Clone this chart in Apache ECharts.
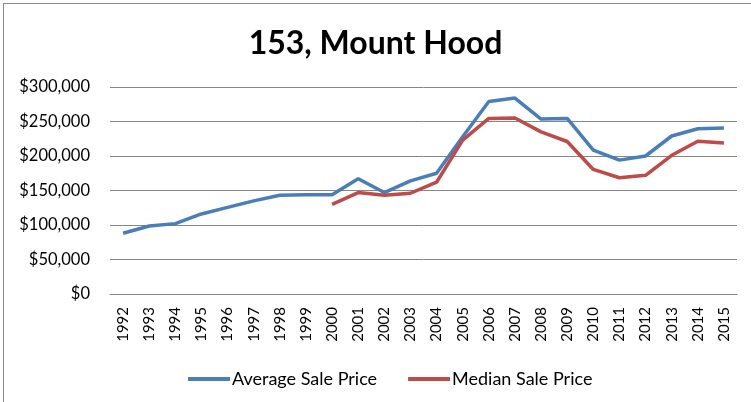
<!DOCTYPE html>
<html>
<head>
<meta charset="utf-8">
<script src="https://cdn.jsdelivr.net/npm/echarts@6/dist/echarts.min.js"></script>
<style>
  html, body { margin: 0; padding: 0; background: #fff; }
  #frame { position: absolute; left: 3px; top: 3px; width: 800px; height: 450px; border: 1px solid #8c8c8c; }
  #chart { position: absolute; left: 0; top: 0; width: 751px; height: 402px; }
</style>
</head>
<body>
<div id="frame"></div>
<div id="chart"></div>
<script>
const years = ['1992', '1993', '1994', '1995', '1996', '1997', '1998', '1999', '2000', '2001', '2002', '2003',
  '2004', '2005', '2006', '2007', '2008', '2009', '2010', '2011', '2012', '2013', '2014', '2015'];

const averagePrice = [88000, 98500, 102000, 116000, 125500, 135000, 143000, 144000, 144000, 167000, 147000, 164000,
  175000, 228000, 279000, 284000, 253500, 254500, 208500, 194000, 200000, 229000, 239500, 240500];

const medianPrice = [null, null, null, null, null, null, null, null, 130000, 147000, 143000, 146000,
  162000, 223000, 254500, 255000, 235000, 221000, 180500, 168500, 172000, 201000, 221500, 219000];

const chart = echarts.init(document.getElementById('chart'));
const font = 'Lato, "Open Sans", sans-serif';

chart.setOption({
  animation: false,
  title: {
    text: '153, Mount Hood',
    left: 'center',
    top: 23,
    textStyle: { fontFamily: font, fontSize: 32, fontWeight: 'bold', color: '#000' }
  },
  legend: {
    top: 365,
    left: 183,
    itemWidth: 42,
    itemHeight: 4,
    itemGap: 31,
    icon: 'rect',
    textStyle: { fontFamily: font, fontSize: 18, color: '#000', padding: [0, 0, 0, -3] },
    data: ['Average Sale Price', 'Median Sale Price']
  },
  grid: { left: 110, right: 14, top: 87, bottom: 108 },
  xAxis: {
    type: 'category',
    data: years,
    boundaryGap: true,
    axisLine: { lineStyle: { color: '#868686', width: 1 } },
    axisTick: { show: false },
    axisLabel: { rotate: 90, fontFamily: font, fontSize: 15, color: '#000', margin: 13, interval: 0 }
  },
  yAxis: {
    type: 'value',
    min: 0,
    max: 300000,
    interval: 50000,
    axisLine: { show: false },
    axisTick: { show: false },
    splitLine: { lineStyle: { color: '#868686', width: 1 } },
    axisLabel: {
      fontFamily: font, fontSize: 16.5, color: '#000', margin: 20,
      formatter: v => '$' + v.toLocaleString('en-US')
    }
  },
  series: [
    {
      name: 'Average Sale Price',
      type: 'line',
      data: averagePrice,
      showSymbol: false,
      symbol: 'none',
      color: '#4a7ebb',
      lineStyle: { width: 3.5, color: '#4a7ebb' }
    },
    {
      name: 'Median Sale Price',
      type: 'line',
      data: medianPrice,
      showSymbol: false,
      symbol: 'none',
      color: '#be4b48',
      lineStyle: { width: 3.5, color: '#be4b48' }
    }
  ]
});
</script>
</body>
</html>
